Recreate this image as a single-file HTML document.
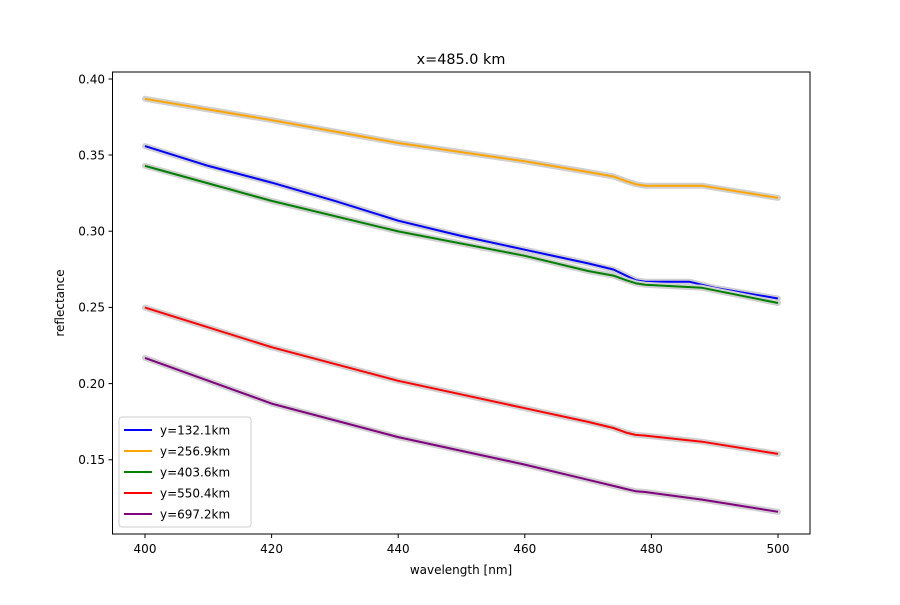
<!DOCTYPE html>
<html><head><meta charset="utf-8"><style>
body{margin:0;background:#fff}
svg text{font-family:"DejaVu Sans","Liberation Sans",sans-serif;fill:#000}
</style></head><body>
<svg id="s" width="900" height="600" xmlns="http://www.w3.org/2000/svg">
<rect width="900" height="600" fill="#fff"/>
<g id="lines"></g>
<rect x="112.5" y="72" width="697.5" height="462" fill="none" stroke="#000" stroke-width="1"/>
<g font-size="12" text-anchor="middle">
<text x="145" y="553">400</text><text x="271.6" y="553">420</text><text x="398.2" y="553">440</text>
<text x="524.8" y="553">460</text><text x="651.4" y="553">480</text><text x="778" y="553">500</text>
</g>
<g stroke="#000">
<line x1="145" y1="534" x2="145" y2="538"/><line x1="271.6" y1="534" x2="271.6" y2="538"/>
<line x1="398.2" y1="534" x2="398.2" y2="538"/><line x1="524.8" y1="534" x2="524.8" y2="538"/>
<line x1="651.4" y1="534" x2="651.4" y2="538"/><line x1="778" y1="534" x2="778" y2="538"/>
<line x1="108.5" y1="79" x2="112.5" y2="79"/><line x1="108.5" y1="155" x2="112.5" y2="155"/>
<line x1="108.5" y1="231.2" x2="112.5" y2="231.2"/><line x1="108.5" y1="307.4" x2="112.5" y2="307.4"/>
<line x1="108.5" y1="383.6" x2="112.5" y2="383.6"/><line x1="108.5" y1="459.8" x2="112.5" y2="459.8"/>
</g>
<g font-size="12" text-anchor="end">
<text x="105" y="83.5">0.40</text><text x="105" y="159.5">0.35</text><text x="105" y="235.5">0.30</text>
<text x="105" y="311.5">0.25</text><text x="105" y="388">0.20</text><text x="105" y="464">0.15</text>
</g>
<text x="461" y="64" font-size="14.4" text-anchor="middle">x=485.0 km</text>
<text x="461" y="574" font-size="12" text-anchor="middle">wavelength [nm]</text>
<text transform="translate(64,303) rotate(-90)" font-size="12" text-anchor="middle">reflectance</text>
<rect x="119" y="417" width="132" height="110" rx="3" fill="#fff" fill-opacity="0.8" stroke="#ccc"/>
<g stroke-width="2">
<line x1="124" y1="430" x2="152" y2="430" stroke="#0000ff"/>
<line x1="124" y1="451" x2="152" y2="451" stroke="#ffa500"/>
<line x1="124" y1="472" x2="152" y2="472" stroke="#008000"/>
<line x1="124" y1="493" x2="152" y2="493" stroke="#ff0000"/>
<line x1="124" y1="514" x2="152" y2="514" stroke="#800080"/>
</g>
<g font-size="12">
<text x="160" y="434.5">y=132.1km</text><text x="160" y="455.5">y=256.9km</text>
<text x="160" y="476.5">y=403.6km</text><text x="160" y="497.5">y=550.4km</text>
<text x="160" y="518.5">y=697.2km</text>
</g>
</svg>
<script>
var S={
"#0000ff":[[400,.356],[410,.343],[420,.332],[430,.320],[440,.307],[450,.297],[460,.288],[470,.279],[474,.275],[476,.271],[477.5,.268],[479,.267],[486,.267],[490,.263],[500,.256]],
"#ffa500":[[400,.387],[420,.373],[440,.358],[460,.346],[470,.339],[474,.336],[476,.333],[477.5,.331],[479,.330],[488,.330],[500,.322]],
"#008000":[[400,.343],[420,.320],[440,.300],[460,.284],[470,.274],[474,.271],[476,.268],[477.5,.266],[479,.265],[488,.263],[500,.253]],
"#ff0000":[[400,.250],[420,.224],[440,.202],[460,.184],[470,.175],[474,.171],[476,.168],[477.5,.1665],[479,.166],[488,.162],[500,.154]],
"#800080":[[400,.217],[420,.187],[440,.165],[460,.147],[470,.137],[474,.133],[476,.131],[477.5,.1295],[479,.129],[488,.124],[500,.116]]};
function X(w){return 145+(w-400)*6.33}
function Y(v){return 79+(0.40-v)/0.05*76.2}
var g=document.getElementById("lines"),h="";
for(var c in S){var d=S[c].map(function(p,i){return(i?"L":"M")+X(p[0]).toFixed(1)+","+Y(p[1]).toFixed(1)}).join("");
h+='<path d="'+d+'" fill="none" stroke="#d0d0d0" stroke-width="6" stroke-linejoin="round" stroke-linecap="round"/>';
h+='<path d="'+d+'" fill="none" stroke="'+c+'" stroke-width="2" stroke-linejoin="round"/>';}
g.innerHTML=h;
</script>
</body></html>
